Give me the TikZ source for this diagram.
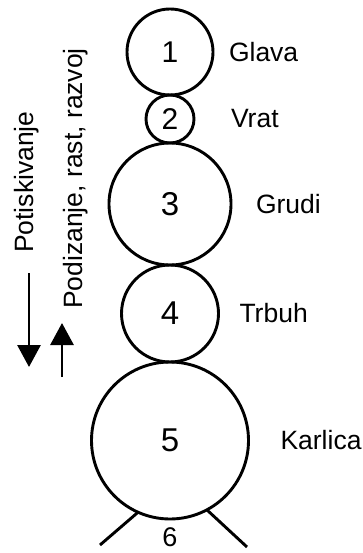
\documentclass[tikz,border=0pt]{standalone}
\usepackage{fontspec}
\setmainfont{Liberation Sans}
\usetikzlibrary{positioning,arrows.meta}
\begin{document}
\begin{tikzpicture}[x=1pt,y=-1pt]
	% line width and text sizes
	\def\lw{2.9pt}
	\def\txt{\fontsize{26.5pt}{30pt}\selectfont}
	\def\numsmall{\fontsize{30pt}{34pt}\selectfont}
	\def\numlarge{\fontsize{33pt}{38pt}\selectfont}
	% node style definition
	\tikzstyle{segment} = [draw, circle, line width=\lw, inner sep=0pt, outer sep=0pt, font=\numlarge];
	\tikzstyle{smallsegment} = [segment, font=\numsmall];
	\tikzstyle{part} = [inner sep=0pt, outer sep=0pt, font=\txt];
	\tikzstyle{motion} = [rotate=90, anchor=base west, inner sep=0pt, font=\txt];
	\tikzstyle{shaft} = [line width=\lw, -{Triangle[length=22pt,width=23pt]}];
	\tikzstyle{leg} = [line width=\lw];
	\useasboundingbox (0,0) rectangle (363,553);
	% body segments, stacked
	\node[smallsegment, minimum size=86pt] (head) at (170,52) { 1 };
	\node[smallsegment, minimum size=48pt, below=0pt of head] (neck) { 2 };
	\node[segment, minimum size=122pt, below=0pt of neck] (chest) { 3 };
	\node[segment, minimum size=97pt, below=0pt of chest] (belly) { 4 };
	\node[segment, minimum size=157pt, below=0pt of belly] (pelvis) { 5 };
	\node[part, font=\fontsize{27pt}{31pt}\selectfont, below=9pt of pelvis] (tail) { 6 };
	% names
	\node[part, right=16pt of head] (glava) { Glava };
	\node[part, right=37pt of neck] (vrat) { Vrat };
	\node[part, right=25pt of chest] (grudi) { Grudi };
	\node[part, right=21pt of belly] (trbuh) { Trbuh };
	\node[part, right=32pt of pelvis] (karlica) { Karlica };
	% legs
	\coordinate (lfoot) at (100,545);
	\coordinate (rfoot) at (247,547);
	\draw[leg] (pelvis.246) -- (lfoot);
	\draw[leg] (pelvis.298) -- (rfoot);
	% directions
	\node[motion] (push) at (33,253) { Potiskivanje };
	\node[motion] (lift) at (82,309) { Podizanje, rast, razvoj };
	\coordinate (pushtop) at (29,273);
	\coordinate (pushtip) at (29,367);
	\coordinate (liftbase) at (62,377);
	\coordinate (lifttip) at (62,323);
	\draw[shaft] (pushtop) -- (pushtip);
	\draw[shaft] (liftbase) -- (lifttip);
\end{tikzpicture}
\end{document}
